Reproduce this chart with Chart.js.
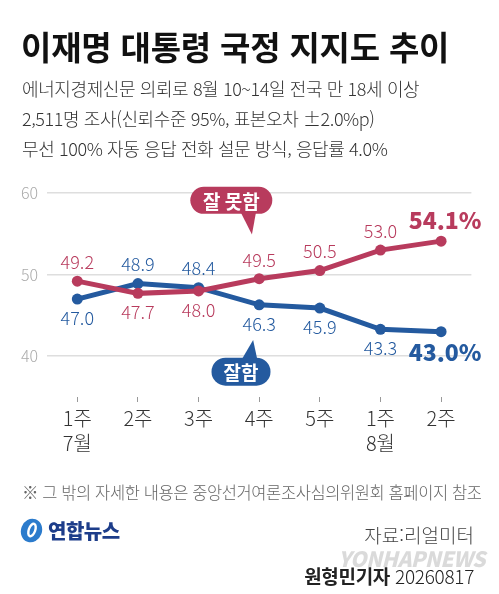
<!DOCTYPE html>
<html lang="ko">
<head>
<meta charset="utf-8">
<title>이재명 대통령 국정 지지도 추이</title>
<script src="https://cdn.jsdelivr.net/npm/chart.js@4.4.1/dist/chart.umd.min.js"></script>
<style>
  html, body { margin: 0; padding: 0; background: #fff; }
  body { width: 499px; height: 594px; position: relative; overflow: hidden;
         font-family: "Noto Sans CJK KR", "Noto Sans", sans-serif; color: #333; }
  #wrap { position: absolute; left: 0; top: 0; width: 499px; height: 594px; }
  .t { position: absolute; white-space: nowrap; }
  .title { left: 21px; top: 28px; font-size: 33px; line-height: 36px; font-weight: 700; color: #111; letter-spacing: -0.2px; }
  .sub { left: 22px; font-size: 18px; line-height: 22px; font-weight: 300; color: #333; letter-spacing: -0.4px; }
  .note { left: 22px; top: 481px; font-size: 16.5px; line-height: 22px; font-weight: 300; color: #666; letter-spacing: -0.4px; }
  .src { right: 25px; top: 523px; font-size: 19px; line-height: 24px; font-weight: 300; color: #444; }
  .byline { right: 25px; top: 564px; font-size: 19px; line-height: 24px; color: #222; letter-spacing: -0.3px; }
  .byline b { font-weight: 700; }
  .byline span { font-weight: 300; }
  .logo { left: 20px; top: 517px; height: 26px; display: flex; align-items: center; }
  .logo b { font-size: 20px; color: #1d3d8a; font-weight: 900; margin-left: 5px; letter-spacing: -0.5px; }
  .wm { right: 14px; top: 546px; font-size: 21px; line-height: 24px; font-weight: 900; font-style: italic;
        color: rgba(150,150,150,0.35); letter-spacing: -0.5px; }
</style>
</head>
<body>
<div id="wrap"><canvas id="poll-chart"></canvas></div>

<div class="t title">이재명 대통령 국정 지지도 추이</div>
<div class="t sub" style="top:77px">에너지경제신문 의뢰로 8월 10~14일 전국 만 18세 이상</div>
<div class="t sub" style="top:107px">2,511명 조사(신뢰수준 95%, 표본오차 ±2.0%p)</div>
<div class="t sub" style="top:137px">무선 100% 자동 응답 전화 설문 방식, 응답률 4.0%</div>

<div class="t note">※ 그 밖의 자세한 내용은 중앙선거여론조사심의위원회 홈페이지 참조</div>
<div class="t logo">
  <svg width="23" height="25" viewBox="0 0 23 25">
    <ellipse cx="11.5" cy="12.5" rx="10.5" ry="12" transform="rotate(20 11.5 12.5)" fill="#2b7bcc"/>
    <ellipse cx="12" cy="12" rx="3.2" ry="6.5" transform="rotate(20 12 12)" fill="none" stroke="#fff" stroke-width="2.4"/>
  </svg>
  <b>연합뉴스</b>
</div>
<div class="t src">자료:리얼미터</div>
<div class="t wm">YONHAPNEWS</div>
<div class="t byline"><b>원형민기자</b> <span>20260817</span></div>

<script>
// 데이터
const weeks    = [['1주', '7월'], '2주', '3주', '4주', '5주', ['1주', '8월'], '2주'];
const approve  = [47.0, 48.9, 48.4, 46.3, 45.9, 43.3, 43.0];   // 잘함
const disapp   = [49.2, 47.7, 48.0, 49.5, 50.5, 53.0, 54.1];   // 잘못함
const yTicks   = [40, 50, 60];

const RED  = '#b83b5d';
const BLUE = '#245a9f';

// 라벨 위치 (-1 위, 1 아래)
const labelSide = {
    0: [-1, 1, 1, -1, -1, -1, -1],
    1: [1, -1, -1, 1, 1, 1, 1]
};

// 값 라벨
const valueLabels = {
    id: 'valueLabels',
    afterDatasetsDraw: (chart) => {
        const {ctx} = chart;
        ctx.save();
        ctx.textAlign = 'center';
        ctx.textBaseline = 'middle';
        chart.data.datasets.forEach((ds, i) => {
            const meta = chart.getDatasetMeta(i);
            meta.data.forEach((pt, j) => {
                const last = j === ds.data.length - 1;
                const side = labelSide[i][j];
                ctx.fillStyle = ds.borderColor;
                if (last) {
                    ctx.font = '800 23px "Noto Sans CJK KR"';
                    ctx.fillText(ds.data[j].toFixed(1) + '%', pt.x + 4, pt.y + side * 21);
                } else {
                    ctx.font = '300 18px "Noto Sans CJK KR"';
                    ctx.fillText(ds.data[j].toFixed(1), pt.x, pt.y + side * 19);
                }
            });
        });
        ctx.restore();
    }
};

// 말풍선
const callouts = {
    id: 'callouts',
    afterDatasetsDraw: (chart, args, options) => {
        const {ctx, scales: {x, y}} = chart;
        ctx.save();
        options.items.forEach(c => {
            const cx = x.getPixelForValue(c.at[0]);
            const cy = y.getPixelForValue(c.at[1]);
            const tx = x.getPixelForValue(c.tip[0]);
            const ty = y.getPixelForValue(c.tip[1]);
            const w = c.w, h = c.h;
            ctx.fillStyle = c.color;
            ctx.beginPath();
            ctx.roundRect(cx - w / 2, cy - h / 2, w, h, h / 2);
            ctx.fill();
            const edge = ty > cy ? cy + h / 2 - 1 : cy - h / 2 + 1;
            ctx.beginPath();
            ctx.moveTo(tx - 11, edge);
            ctx.lineTo(tx + 4, edge);
            ctx.lineTo(tx, ty);
            ctx.closePath();
            ctx.fill();
            ctx.fillStyle = '#fff';
            ctx.font = '700 19px "Noto Sans CJK KR"';
            ctx.textAlign = 'center';
            ctx.textBaseline = 'middle';
            ctx.fillText(c.text, cx, cy + 1);
        });
        ctx.restore();
    }
};

const ctx = document.getElementById('poll-chart');

new Chart(ctx, {
    type: 'line',
    data: {
        labels: weeks,
        datasets: [{
            label: '잘못함',
            data: disapp,
            borderColor: RED,
            backgroundColor: RED,
            borderWidth: 5,
            pointRadius: 5.5,
            pointBorderWidth: 0,
            tension: 0
        }, {
            label: '잘함',
            data: approve,
            borderColor: BLUE,
            backgroundColor: BLUE,
            borderWidth: 5,
            pointRadius: 5.5,
            pointBorderWidth: 0,
            tension: 0
        }]
    },
    options: {
        responsive: true,
        maintainAspectRatio: false,
        animation: false,
        layout: {
            padding: {top: 193, right: 27.6, bottom: 137, left: 0}
        },
        scales: {
            x: {
                offset: true,
                grid: {
                    drawOnChartArea: false,
                    tickLength: 5,
                    tickColor: '#999',
                    tickWidth: 1
                },
                border: {display: false},
                ticks: {
                    padding: 4,
                    color: '#333',
                    font: {family: 'Noto Sans CJK KR', size: 20, weight: 300, lineHeight: 1.25}
                },
                afterFit: (s) => { s.height = 60; }
            },
            y: {
                min: 35,
                max: 60,
                afterBuildTicks: (s) => { s.ticks = yTicks.map(v => ({value: v})); },
                afterFit: (s) => { s.width = 47; },
                grid: {
                    color: '#dedede',
                    lineWidth: 1.5,
                    drawTicks: false
                },
                border: {display: false},
                ticks: {
                    padding: 9,
                    color: '#aaa',
                    font: {family: 'Noto Sans CJK KR', size: 16, weight: 300}
                }
            }
        },
        plugins: {
            legend: false,
            tooltip: {enabled: false},
            callouts: {
                items: [
                    {text: '잘 못함', color: RED,  at: [2.54, 59.1], tip: [2.88, 54.9], w: 82, h: 27},
                    {text: '잘함',    color: BLUE, at: [2.70, 38.1], tip: [2.90, 42.0], w: 59, h: 28}
                ]
            }
        }
    },
    plugins: [valueLabels, callouts]
});
</script>
</body>
</html>
